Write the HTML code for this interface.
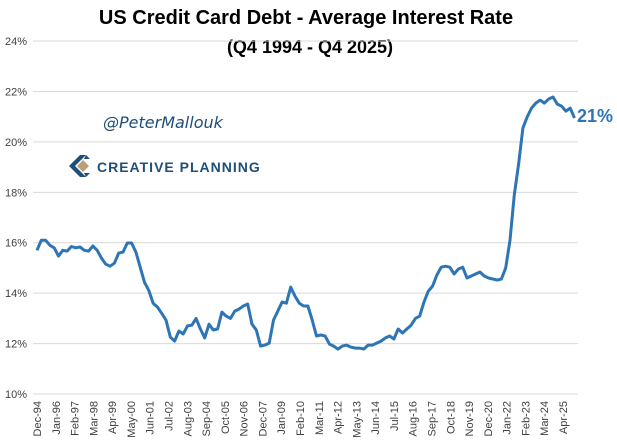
<!DOCTYPE html>
<html><head><meta charset="utf-8"><style>
body{margin:0;background:#fff;}
svg{display:block;font-family:"Liberation Sans",sans-serif;}
</style></head><body>
<svg id="c" width="617" height="442">
<text x="306" y="24" text-anchor="middle" font-size="20" font-weight="bold" fill="#000">US Credit Card Debt - Average Interest Rate</text>
<text x="310" y="53" text-anchor="middle" font-size="18" font-weight="bold" fill="#000">(Q4 1994 - Q4 2025)</text>
<g id="grid"></g><g id="ylab"></g><g id="xlab"></g>
<path id="line" fill="none" stroke="#2e75b6" stroke-width="3" stroke-linejoin="round"/>
<text id="endlab" x="577" y="122" font-size="18" font-weight="bold" fill="#2e75b6">21%</text>
<text x="103" y="128" font-size="16" font-style="italic" fill="#1f4e79" font-family="DejaVu Sans, sans-serif">@PeterMallouk</text>
<g>
<path d="M80 155 L69 166 L80 177 L86 177 L75 166 L86 155 Z" fill="#1f4e79"/>
<path d="M83 160 L89 166 L83 172 L77 166 Z" fill="#b9a07a"/>
<path d="M86 155 L90 159 L84 159 Z M86 177 L90 173 L84 173 Z" fill="#1f4e79"/>
<text x="97" y="172" font-size="14" font-weight="bold" fill="#1f4e79" letter-spacing="1">CREATIVE PLANNING</text>
</g>
</svg>
<script>
const yTicks=[10,12,14,16,18,20,22,24];
const xLabels=["Dec-94","Jan-96","Feb-97","Mar-98","Apr-99","May-00","Jun-01","Jul-02","Aug-03","Sep-04","Oct-05","Nov-06","Dec-07","Jan-09","Feb-10","Mar-11","Apr-12","May-13","Jun-14","Jul-15","Aug-16","Sep-17","Oct-18","Nov-19","Dec-20","Jan-22","Feb-23","Mar-24","Apr-25"];
const xLabelMonths=[0,13,26,39,52,65,78,91,104,117,130,143,156,169,182,195,208,221,234,247,260,273,286,299,312,325,338,351,364];
const rates=[15.7,16.1,16.1,15.9,15.8,15.47,15.7,15.67,15.85,15.8,15.83,15.7,15.67,15.87,15.7,15.39,15.15,15.07,15.19,15.59,15.63,15.99,15.99,15.63,15.03,14.43,14.11,13.6,13.45,13.2,12.93,12.26,12.1,12.5,12.38,12.7,12.73,13.0,12.58,12.22,12.77,12.54,12.58,13.25,13.09,13.0,13.29,13.37,13.49,13.57,12.77,12.54,11.9,11.94,12.02,12.93,13.29,13.65,13.6,14.24,13.88,13.6,13.49,13.49,12.93,12.3,12.34,12.3,11.98,11.9,11.78,11.9,11.94,11.86,11.82,11.82,11.78,11.94,11.94,12.02,12.1,12.22,12.3,12.18,12.58,12.42,12.58,12.73,13.0,13.09,13.65,14.08,14.28,14.72,15.03,15.07,15.03,14.76,14.96,15.03,14.6,14.68,14.76,14.84,14.68,14.6,14.56,14.52,14.56,15.0,16.1,17.9,19.12,20.55,20.99,21.34,21.54,21.66,21.54,21.7,21.78,21.5,21.42,21.22,21.34,20.95];
const NS="http://www.w3.org/2000/svg";
const X0=37,PXM=1.445,Y0=394,PXP=25.21,LASTM=372;
const xs=m=>X0+m*PXM, ys=v=>Y0-(v-10)*PXP;
yTicks.forEach(t=>{
 const l=document.createElementNS(NS,'line');
 l.setAttribute('x1',33);l.setAttribute('x2',578);l.setAttribute('y1',ys(t));l.setAttribute('y2',ys(t));
 l.setAttribute('stroke','#d9d9d9');l.setAttribute('stroke-width','1');
 
 
 document.getElementById('grid').appendChild(l);
 const tx=document.createElementNS(NS,'text');
 tx.setAttribute('x',27);tx.setAttribute('y',ys(t)+4);tx.setAttribute('text-anchor','end');
 tx.setAttribute('font-size','11');tx.setAttribute('fill','#404040');
 tx.textContent=t+'%';
 
 
 document.getElementById('ylab').appendChild(tx);
});
xLabels.forEach((s,i)=>{
 const x=xs(xLabelMonths[i]);
 const tx=document.createElementNS(NS,'text');
 tx.setAttribute('transform','translate('+(x+4)+',401) rotate(-90)');
 tx.setAttribute('text-anchor','end');tx.setAttribute('font-size','11');tx.setAttribute('fill','#404040');
 tx.textContent=s;
 
 
 document.getElementById('xlab').appendChild(tx);
});
let d='';
rates.forEach((v,i)=>{const m=i*LASTM/(rates.length-1);d+=(i?'L':'M')+xs(m).toFixed(1)+' '+ys(v).toFixed(1);});
document.getElementById('line').setAttribute('d',d);
</script>
</body></html>
